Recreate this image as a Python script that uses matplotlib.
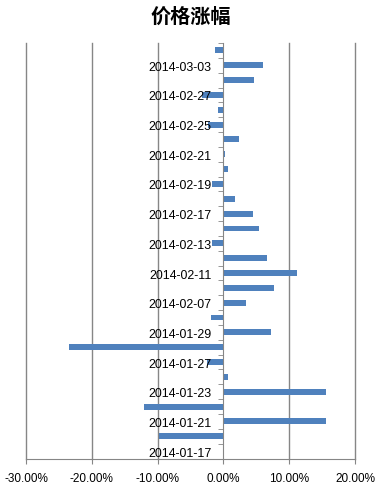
import matplotlib
matplotlib.use("Agg")
import matplotlib.pyplot as plt
from matplotlib.ticker import FuncFormatter, FixedLocator
import numpy as np

dates = ["2014-01-17", "2014-01-20", "2014-01-21", "2014-01-22", "2014-01-23",
         "2014-01-24", "2014-01-27", "2014-01-28", "2014-01-29", "2014-01-30",
         "2014-02-07", "2014-02-10", "2014-02-11", "2014-02-12", "2014-02-13",
         "2014-02-14", "2014-02-17", "2014-02-18", "2014-02-19", "2014-02-20",
         "2014-02-21", "2014-02-24", "2014-02-25", "2014-02-26", "2014-02-27",
         "2014-02-28", "2014-03-03", "2014-03-04"]
changes = [0.0, -0.0985, 0.156, -0.120, 0.156,
           0.0066, -0.025, -0.234, 0.072, -0.019,
           0.034, 0.077, 0.112, 0.066, -0.017,
           0.054, 0.045, 0.017, -0.017, 0.007,
           0.002, 0.023, -0.023, -0.008, -0.033,
           0.0465, 0.060, -0.0126]
x_ticks = [-0.3, -0.2, -0.1, 0.0, 0.1, 0.2]
title = "价格涨幅"

W, H = 381, 489
fig = plt.figure(figsize=(W / 100, H / 100), dpi=100)
ax = fig.add_axes([26 / W, 1 - 459.5 / H, (355 - 26) / W, (459.5 - 44) / H])

gray = "#868686"
y = np.arange(len(dates))
ax.barh(y, changes, height=0.4, color="#4F81BD", zorder=1)

for xv in x_ticks:
    if xv != 0:
        ax.axvline(xv, color=gray, lw=1.0, zorder=0.5, clip_on=False)

ax.set_xlim(-0.3, 0.2)
ax.set_ylim(-0.5, len(dates) - 0.5)

ax.spines["top"].set_visible(False)
ax.spines["right"].set_visible(False)
ax.spines["left"].set_position(("data", 0))
ax.spines["left"].set_color(gray)
ax.spines["bottom"].set_color(gray)

ax.xaxis.set_major_locator(FixedLocator(x_ticks))
ax.xaxis.set_major_formatter(FuncFormatter(lambda v, p: f"{v*100:.2f}%"))
ax.tick_params(axis="x", length=3.5, color=gray, pad=6, labelsize=8.5)

lab_pos = y[::2]
ax.set_yticks(lab_pos)
ax.set_yticklabels([dates[i] for i in lab_pos])
ax.set_yticks(np.arange(-0.5, len(dates), 1.0), minor=True)
ax.tick_params(axis="y", which="major", length=0, pad=8.5, labelsize=8.9)
ax.tick_params(axis="y", which="minor", length=3.5, color=gray, direction="out")

for lbl in ax.get_xticklabels() + ax.get_yticklabels():
    lbl.set_family("Liberation Sans")

fig.text(191 / W, 1 - 16 / H, title, ha="center", va="center", fontsize=14.5,
         fontweight="bold", family=["Noto Sans CJK SC", "DejaVu Sans"])

fig.savefig("out.png", dpi=100)
